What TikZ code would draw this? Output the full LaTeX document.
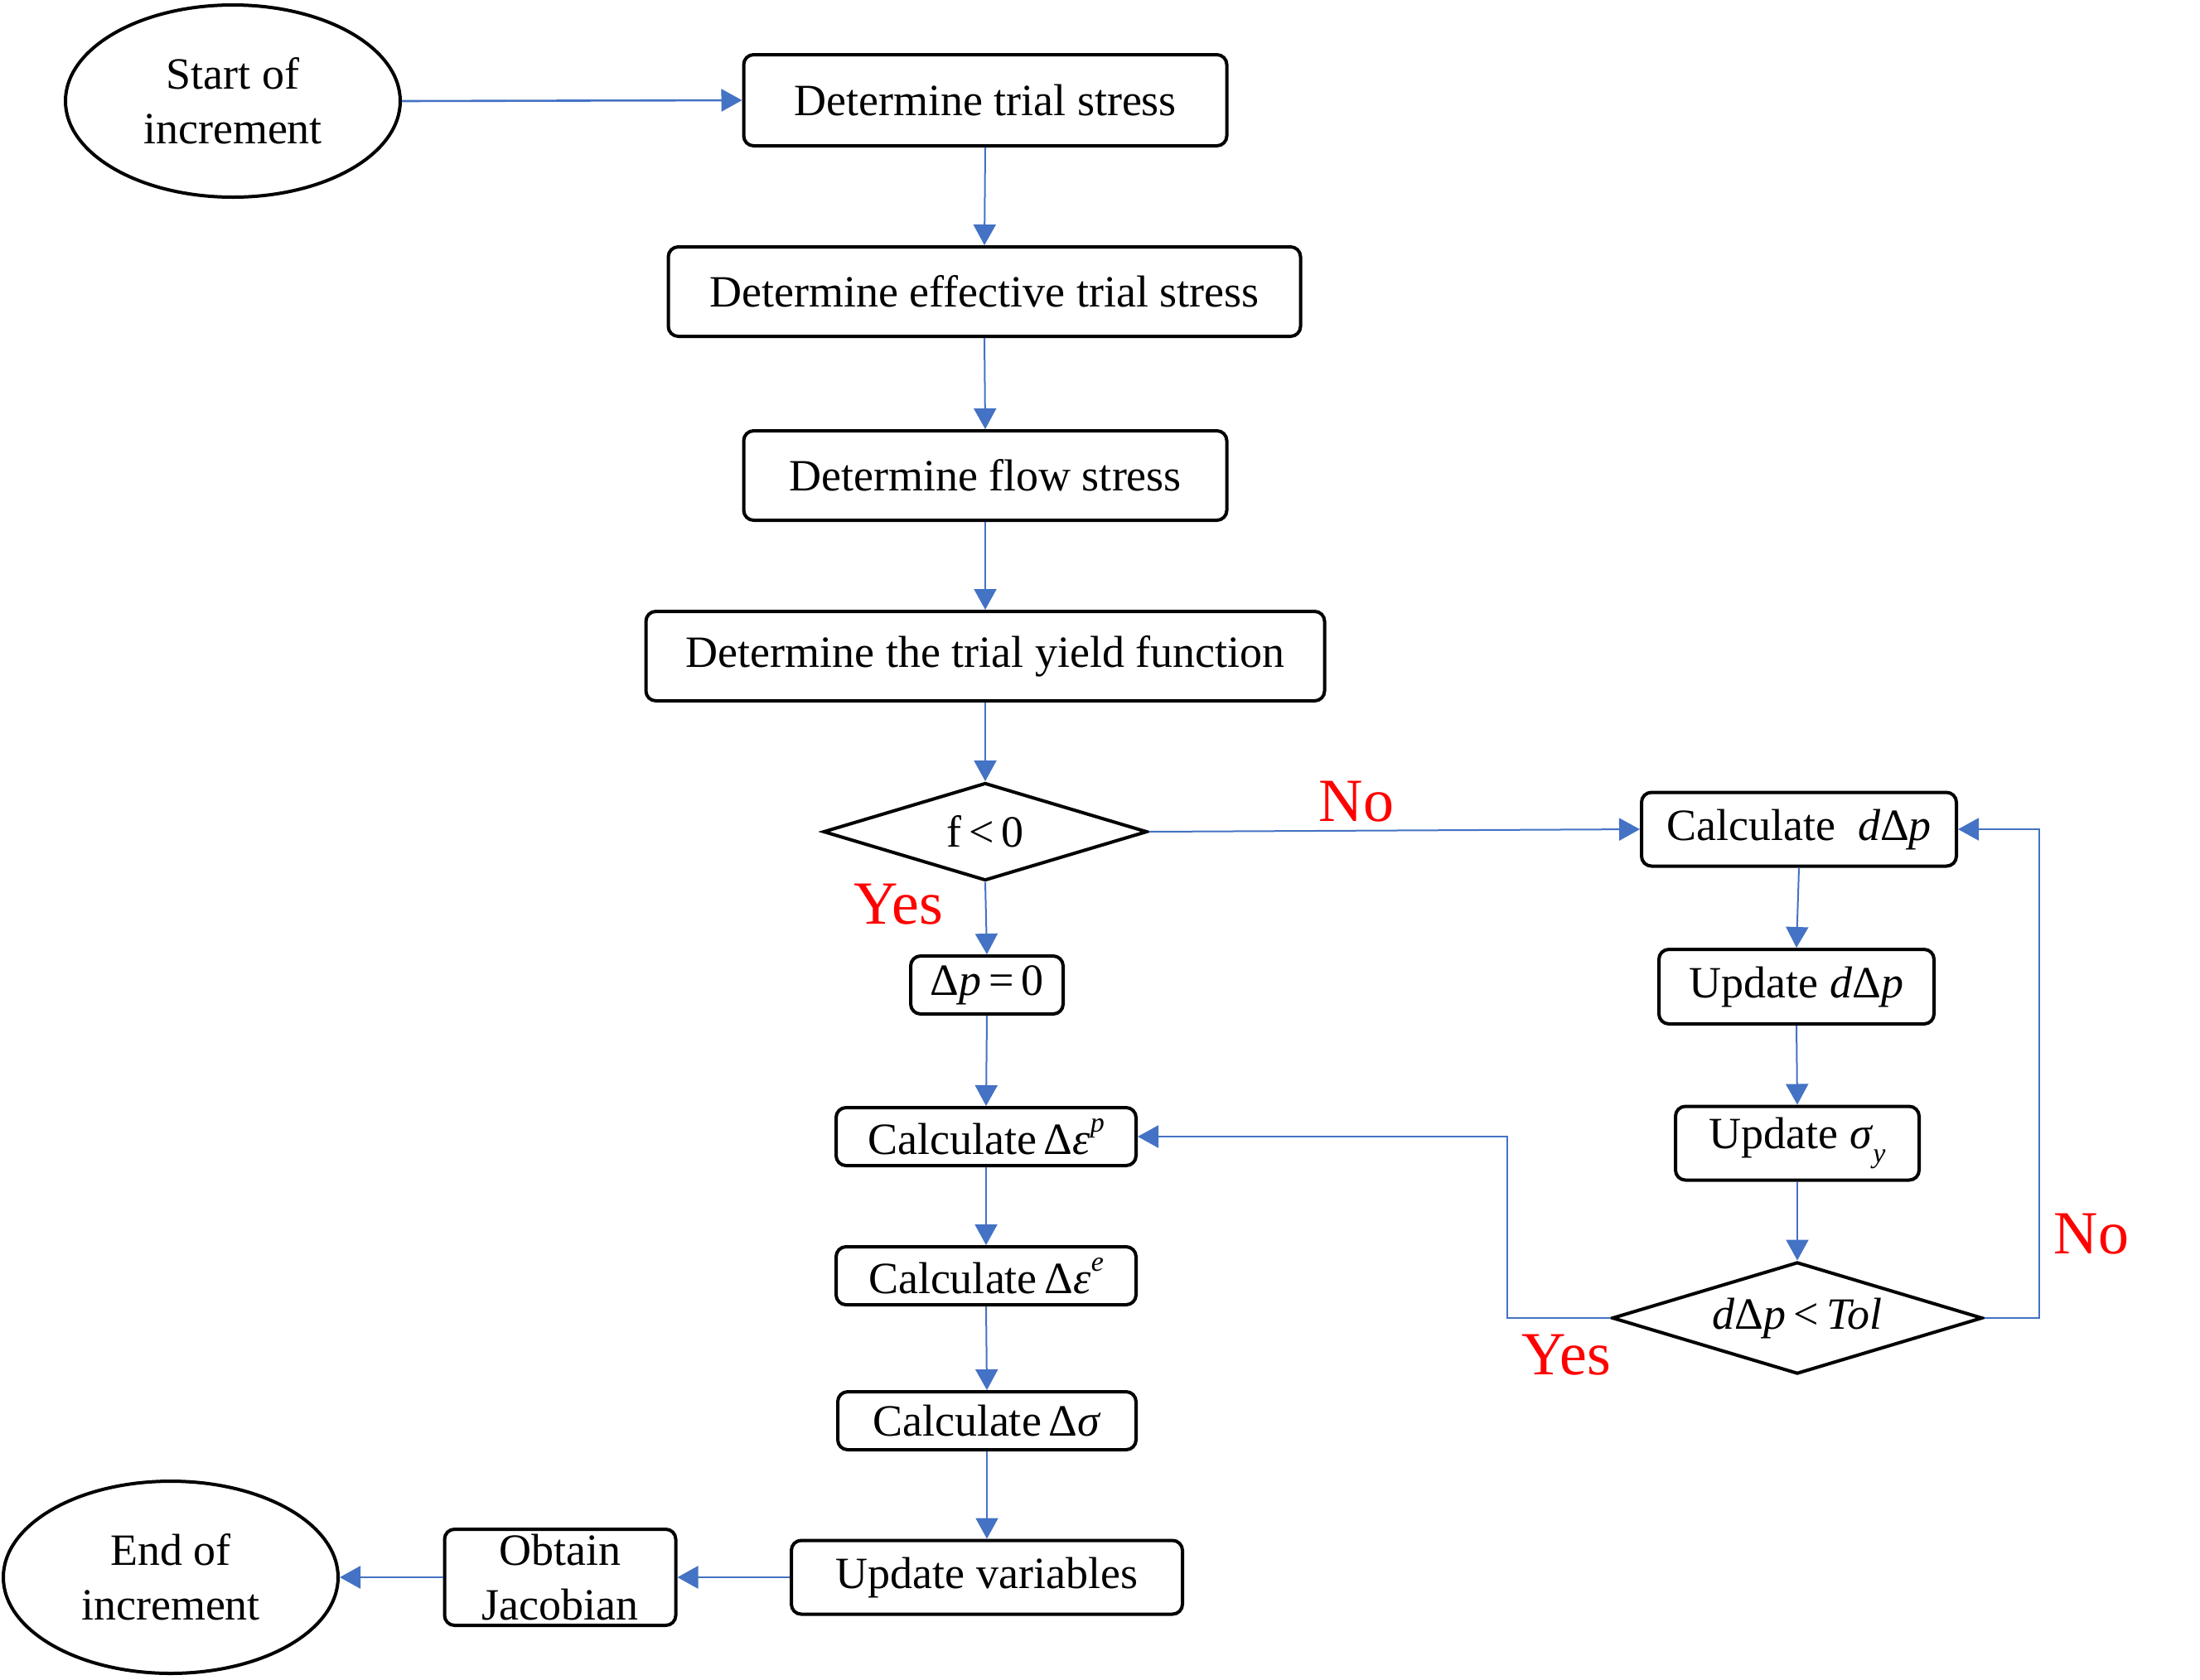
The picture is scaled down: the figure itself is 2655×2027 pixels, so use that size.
\documentclass[tikz,border=0pt]{standalone}
\usepackage{fontspec}
\setmainfont{Liberation Serif}
\usetikzlibrary{shapes.geometric,arrows.meta}
\definecolor{lnblue}{HTML}{4472C4}
\definecolor{lbred}{HTML}{FF0000}
\newcommand\mysup[1]{\raisebox{0.5em}{\fontsize{34}{34}\selectfont\itshape #1}}
\newcommand\mysub[1]{\raisebox{-0.3em}{\fontsize{34}{34}\selectfont\itshape #1}}
\begin{document}
\begin{tikzpicture}[x=1pt,y=-1pt,
  box/.style={draw, line width=4pt, rounded corners=12pt, inner sep=0pt, align=center,
    font=\fontsize{54}{66}\selectfont},
  oval/.style={draw, ellipse, line width=4pt, inner sep=0pt, align=center,
    font=\fontsize{54}{66}\selectfont},
  dia/.style={draw, diamond, line width=4pt, inner sep=0pt, aspect=3.3,
    font=\fontsize{54}{66}\selectfont},
  conn/.style={draw=lnblue, line width=2pt, -{Triangle[width=27pt,length=25pt]}},
  lab/.style={text=lbred, inner sep=0pt, font=\fontsize{74}{80}\selectfont}
]
\useasboundingbox (0,0) rectangle (2655,2027);
\fill[white] (0,0) rectangle (2655,2027);

\node[oval, minimum width=404pt, minimum height=232pt] (start) at (281,122) {Start of\\increment};
\node[box, minimum width=583pt, minimum height=110pt] (b1) at (1189,121) {Determine trial stress};
\node[box, minimum width=763pt, minimum height=108pt] (b2) at (1188,352) {Determine effective trial stress};
\node[box, minimum width=583pt, minimum height=108pt] (b3) at (1189,574) {Determine flow stress};
\node[box, minimum width=819pt, minimum height=108pt] (b4) at (1189,792) {Determine the trial yield function};
\node[dia, minimum width=391pt, minimum height=118pt] (d1) at (1189,1004) {f\,<\,0};
\node[box, minimum width=184pt, minimum height=70pt] (dp0) at (1191,1189) {Δ\textit{p}\,=\,0};
\node[box, minimum width=362pt, minimum height=70pt] (cep) at (1190,1372) {Calculate\,Δ\textit{ε}\mysup{p}};
\node[box, minimum width=362pt, minimum height=70pt] (cee) at (1190,1540) {Calculate\,Δ\textit{ε}\mysup{e}};
\node[box, minimum width=360pt, minimum height=70pt] (cds) at (1191,1715) {Calculate\,Δ\textit{σ}};
\node[box, minimum width=472pt, minimum height=89pt] (upd) at (1191,1904) {Update variables};
\node[box, minimum width=279pt, minimum height=116pt] (jac) at (676,1904) {Obtain\\Jacobian};
\node[oval, minimum width=404pt, minimum height=232pt] (endn) at (206,1904) {End of\\increment};

\node[box, minimum width=380pt, minimum height=89pt] (cdp) at (2171,1001) {Calculate \ \textit{d}Δ\textit{p}};
\node[box, minimum width=332pt, minimum height=90pt] (udp) at (2168,1191) {Update \textit{d}Δ\textit{p}};
\node[box, minimum width=294pt, minimum height=89pt] (usy) at (2169,1380) {Update \textit{σ}\mysub{y}};
\node[dia, minimum width=447pt, minimum height=135pt] (d2) at (2169,1591) {\textit{d}Δ\textit{p}\,<\,\textit{Tol}};

\coordinate (nr) at (2461,1591);
\coordinate (yl) at (1819,1591);

\draw[conn, line width=2.6pt] (start.east) -- (b1.west);
\draw[conn] (b1.south) -- (b2.north);
\draw[conn] (b2.south) -- (b3.north);
\draw[conn] (b3.south) -- (b4.north);
\draw[conn] (b4.south) -- (d1.north);
\draw[conn] (d1.east) -- (cdp.west);
\draw[conn] (d1.south) -- (dp0.north);
\draw[conn] (dp0.south) -- (cep.north);
\draw[conn] (cep.south) -- (cee.north);
\draw[conn] (cee.south) -- (cds.north);
\draw[conn] (cds.south) -- (upd.north);
\draw[conn, line width=2.6pt] (upd.west) -- (jac.east);
\draw[conn, line width=2.6pt] (jac.west) -- (endn.east);
\draw[conn] (cdp.south) -- (udp.north);
\draw[conn] (udp.south) -- (usy.north);
\draw[conn] (usy.south) -- (d2.north);
\draw[conn] (d2.east) -- (nr) |- (cdp.east);
\draw[conn] (d2.west) -- (yl) |- (cep.east);

\node[lab] (no1) at (1637,968) {No};
\node[lab] (yes1) at (1084,1092) {Yes};
\node[lab] (no2) at (2524,1490) {No};
\node[lab] (yes2) at (1890,1636) {Yes};
\end{tikzpicture}
\end{document}
